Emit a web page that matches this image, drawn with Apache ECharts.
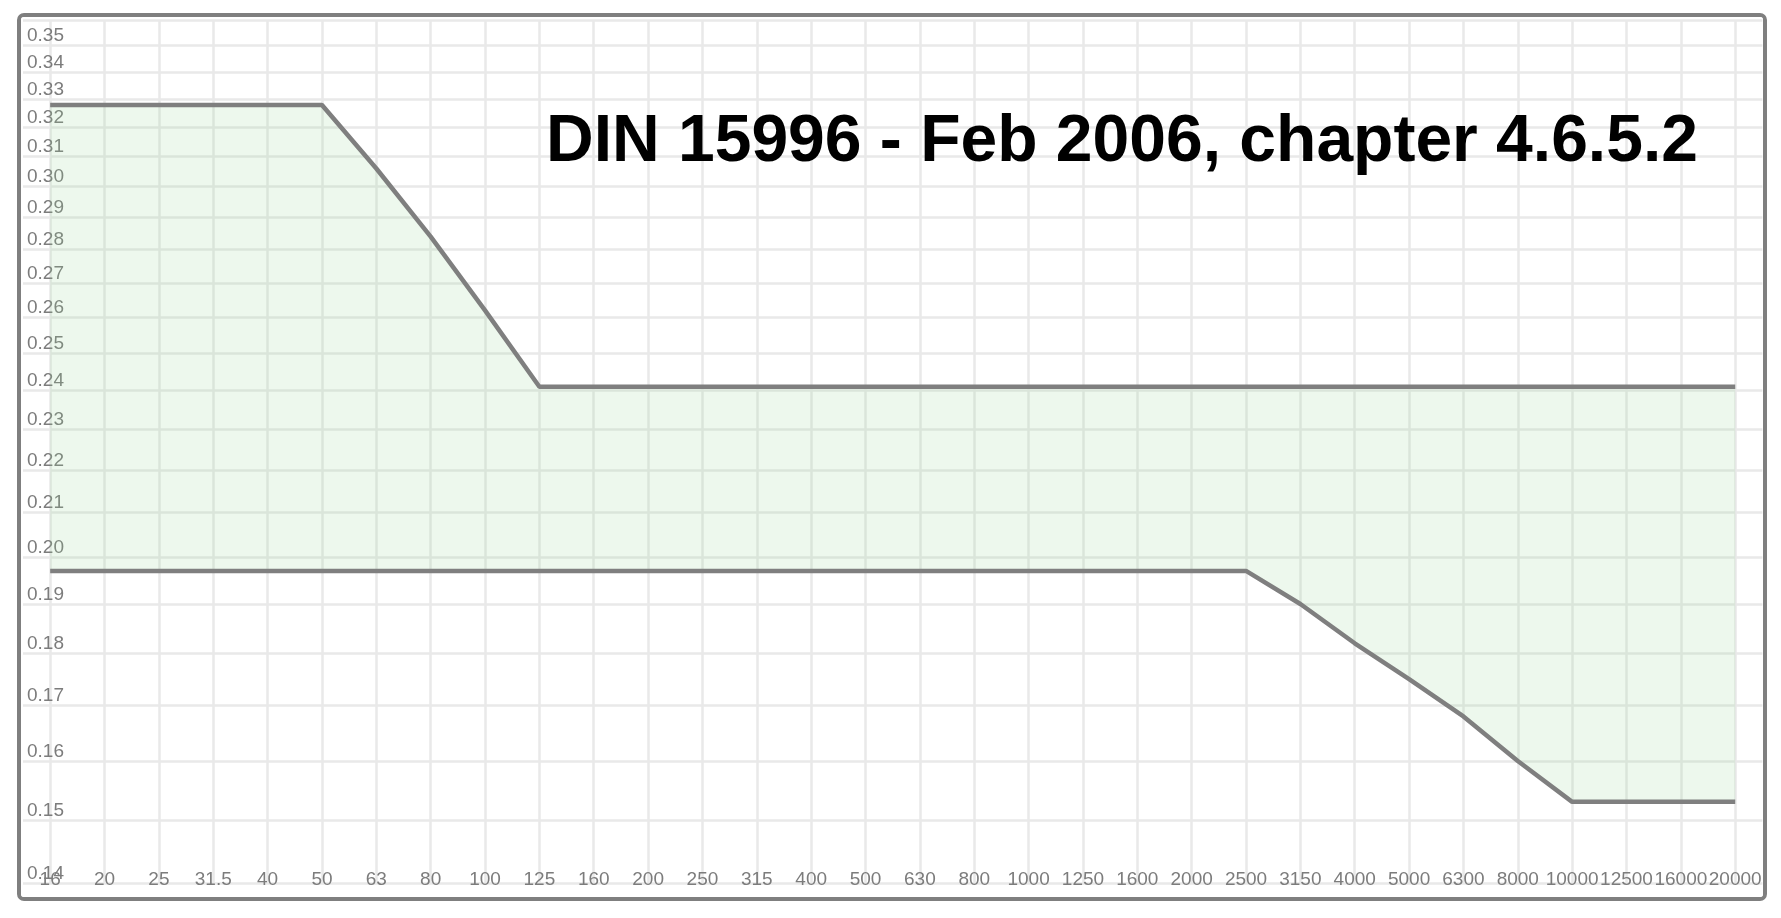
<!DOCTYPE html>
<html>
<head>
<meta charset="utf-8">
<script src="https://cdn.jsdelivr.net/npm/echarts@6/dist/echarts.min.js"></script>
<style>
  html, body { margin: 0; padding: 0; background: #fff; width: 1781px; height: 918px; overflow: hidden; }
  #frame {
    position: absolute; left: 17px; top: 13px; width: 1750px; height: 888px;
    box-sizing: border-box; border: 4px solid #7f7f7f; border-radius: 7px;
    overflow: hidden; background: #fff;
  }
  #chart { position: absolute; left: 0; top: 0; width: 1742px; height: 880px; }
</style>
</head>
<body>
<div id="frame"><div id="chart"></div></div>
<script>
// Frequency bands (Hz)
const categories = ['16','20','25','31.5','40','50','63','80','100','125','160','200','250','315','400','500','630','800','1000','1250','1600','2000','2500','3150','4000','5000','6300','8000','10000','12500','16000','20000'];

// Upper tolerance limit
const upperValues = [0.328,0.328,0.328,0.328,0.328,0.328,0.306,0.284,0.262,0.241,0.241,0.241,0.241,0.241,0.241,0.241,0.241,0.241,0.241,0.241,0.241,0.241,0.241,0.241,0.241,0.241,0.241,0.241,0.241,0.241,0.241,0.241];

// Lower tolerance limit
const lowerValues = [0.197,0.197,0.197,0.197,0.197,0.197,0.197,0.197,0.197,0.197,0.197,0.197,0.197,0.197,0.197,0.197,0.197,0.197,0.197,0.197,0.197,0.197,0.197,0.190,0.182,0.175,0.168,0.160,0.153,0.153,0.153,0.153];

// Y tick values
const yTicks = [0.14,0.15,0.16,0.17,0.18,0.19,0.20,0.21,0.22,0.23,0.24,0.25,0.26,0.27,0.28,0.29,0.30,0.31,0.32,0.33,0.34,0.35,0.36];

const titleText = 'DIN 15996 - Feb 2006, chapter 4.6.5.2';

const bandValues = upperValues.map((u, i) => +(u - lowerValues[i]).toFixed(4));

const chart = echarts.init(document.getElementById('chart'), null, { renderer: 'canvas' });
const FONT = "'Liberation Sans', Arial, sans-serif";
const gridColor = '#e9e9e9';
const lineColor = '#7f7f7f';
const labelColor = '#7c7c7c';

chart.setOption({
  animation: false,
  backgroundColor: '#fff',
  title: {
    text: titleText,
    left: 525,
    top: 93,
    padding: 0,
    textStyle: { fontFamily: FONT, fontSize: 66, fontWeight: 'bold', color: '#000', lineHeight: 66 }
  },
  grid: { left: 2, top: 3, width: 1739.4, height: 863, containLabel: false, outerBoundsMode: 'none' },
  xAxis: {
    type: 'category',
    data: categories,
    boundaryGap: true,
    axisLine: { show: false },
    axisTick: { show: false, alignWithLabel: true },
    splitLine: { show: true, alignWithLabel: true, interval: 0, lineStyle: { color: gridColor, width: 2.5 } },
    axisLabel: {
      interval: 0, margin: -3, verticalAlign: 'middle',
      fontFamily: FONT, fontSize: 19, color: labelColor, hideOverlap: false
    }
  },
  yAxis: {
    type: 'log',
    logBase: 10,
    min: 0.14,
    max: 0.36,
    axisLine: { show: false },
    axisTick: { show: false, customValues: yTicks },
    splitLine: { show: true, customValues: yTicks, lineStyle: { color: gridColor, width: 2.5 } },
    axisLabel: {
      customValues: yTicks,
      inside: true, margin: 4,
      verticalAlign: 'bottom', lineHeight: 19,
      fontFamily: FONT, fontSize: 19, color: labelColor,
      showMinLabel: true, showMaxLabel: true, hideOverlap: false,
      formatter: v => Number(v).toFixed(2)
    }
  },
  series: [
    {
      name: 'lower',
      type: 'line',
      data: lowerValues,
      stack: 'band',
      showSymbol: false,
      symbol: 'none',
      z: 4,
      lineStyle: { color: lineColor, width: 4.5 }
    },
    {
      name: 'band',
      type: 'line',
      data: bandValues,
      stack: 'band',
      showSymbol: false,
      symbol: 'none',
      z: 3,
      lineStyle: { color: lineColor, width: 4.5 },
      areaStyle: { color: 'rgba(150, 212, 150, 0.17)', opacity: 1 }
    }
  ]
});
</script>
</body>
</html>
